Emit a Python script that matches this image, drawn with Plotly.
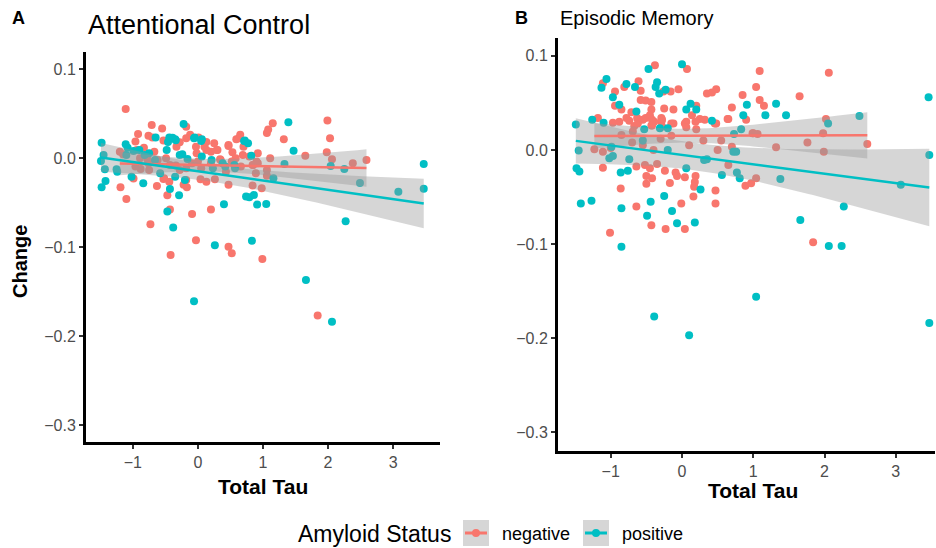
import numpy as np
import plotly.graph_objects as go

RED = "#F8766D"
CYAN = "#00BFC4"

# ---------------- Panel A: Attentional Control ----------------
a_neg_x = [-1.11,-0.71,-0.55,-0.18,-0.92,-0.76,-0.70,-0.53,-0.33,-0.12,0.01,0.13,0.25,0.47,0.59,0.65,0.70,1.06,1.08,1.15,1.32,1.65,1.99,2.03,1.98,2.06,2.38,2.59,
           -1.19,-1.10,-0.63,-0.99,-0.47,-0.43,-0.73,-0.09,0.20,-0.03,0.47,0.52,-0.42,0.99,1.84,0.84,0.98,1.06,0.47,0.26,0.13,0.04,-0.17,-0.22,-0.53,-0.44,
           -0.96,-1.15,-0.83,-0.67,-0.28,-0.18,-0.03,0.10,0.20,0.30,0.47,0.53,0.63,0.69,0.79,0.92,-0.96,-0.88,-0.75,-0.77,-0.62,-0.49,-0.52,-0.18,-0.09,
           -0.34,-0.28,-0.18,0.00,0.05,0.20,0.35,0.43,0.58,0.66,0.84,0.89,0.92,
           -1.20,-0.94,-0.89,-0.76,-0.43,-0.02,0.13,0.29,0.34,0.52,0.85,0.90,1.06,1.11]
a_neg_y = [0.055,0.037,0.033,0.035,0.027,0.025,0.023,0.0195,0.0127,0.026,0.023,0.018,0.0165,0.0146,0.021,0.026,0.0127,0.028,0.032,0.039,0.021,0.0026,0.042,0.022,0.0064,-0.0015,-0.006,-0.0022,
           -0.033,-0.046,-0.0315,-0.023,-0.042,-0.058,-0.0745,-0.063,-0.058,-0.0925,-0.0996,-0.107,-0.109,-0.1135,-0.177,-0.031,-0.034,-0.020,-0.030,-0.024,-0.0266,-0.024,-0.033,-0.030,-0.0236,-0.0266,
           0.0184,0.0041,0.0116,0.0071,0.0176,0.022,0.0127,0.0127,0.0071,0.009,0.0135,0.0064,0.022,0.0034,0.0015,0.0052,-0.0097,-0.0124,-0.0135,-0.0022,-0.0022,-0.0004,-0.0228,-0.0247,-0.006,
           -0.0086,-0.0135,-0.0116,-0.0041,-0.0116,-0.006,-0.0022,-0.0154,-0.0004,-0.0097,-0.0079,-0.0172,-0.006,
           0.0071,0.009,-0.0004,-0.006,-0.0079,0.0052,0.009,0.009,-0.0015,-0.0041,-0.0079,-0.0041,-0.0135,-0.0004]

a_pos_x = [-0.22,-0.65,-0.44,-0.35,-0.46,-0.05,0.06,0.72,0.77,1.39,1.47,1.33,2.04,2.25,2.49,3.08,3.47,3.47,2.27,-1.48,-1.45,-1.49,-1.43,-1.25,-1.24,-1.42,-1.48,
           -1.02,-0.84,-0.43,-0.29,-0.47,-0.38,0.40,0.26,0.83,1.66,0.74,0.79,0.86,0.91,1.05,1.16,-0.20,-0.35,-0.58,-0.06,2.06,
           -1.11,-1.08,-0.99,-0.90,-0.75,-0.39,-0.34,-0.06,0.05,0.06,0.71,0.82,-0.24,-0.16,0.23,0.38,0.56,
           -1.10,-0.82,-0.66,-0.48,-0.28,0.21,0.42,0.57]
a_pos_y = [0.038,0.023,0.023,0.021,0.018,0.023,0.021,0.0195,0.0165,0.040,0.008,-0.0067,-0.009,-0.0124,-0.028,-0.038,-0.0067,-0.0345,-0.071,0.017,0.0034,-0.0034,-0.0127,-0.0127,-0.0154,-0.026,-0.033,
           -0.021,-0.0285,-0.035,-0.042,-0.060,-0.078,-0.052,-0.098,-0.093,-0.137,-0.0434,-0.044,-0.0416,-0.0524,-0.0517,-0.0228,-0.0247,-0.021,-0.0172,-0.161,-0.184,
           0.0154,0.0116,0.0079,0.009,0.0052,0.0228,0.020,0.022,0.019,0.0015,0.019,0.0026,0.0041,-0.0011,-0.0116,-0.006,-0.0079,
           0.0034,0.0034,-0.0022,0.009,0.0034,-0.0022,-0.0097,-0.0116]

# ---------------- Panel B: Episodic Memory ----------------
b_neg_x = [-1.18,-1.11,-0.94,-0.94,-0.85,-0.81,-0.88,-0.97,-0.78,-0.71,-0.61,-0.58,-0.63,-0.67,-0.58,-0.51,-0.43,-0.43,-0.38,-0.26,-0.16,-0.05,-0.25,-0.12,-0.29,-0.29,-0.12,-0.39,-0.43,-0.51,-0.45,
           0.07,0.20,0.14,0.04,0.25,0.48,0.35,0.42,0.48,0.64,0.70,0.85,0.90,1.04,1.09,1.09,1.15,1.65,2.06,2.02,
           -0.74,-0.62,-0.69,-0.55,-0.42,-0.42,-0.28,-0.15,-0.28,0.06,0.06,0.19,0.32,0.20,0.46,0.65,1.00,
           -1.23,-0.64,-0.52,-0.45,-0.35,-0.50,-0.42,-0.50,-0.24,-0.09,-0.07,0.04,-0.17,0.19,0.18,0.17,0.16,0.47,0.47,0.65,0.89,0.97,1.04,-1.11,-0.86,-0.64,-0.01,-0.43,-0.23,0.04,-1.01,
           1.32,1.84,1.76,1.99,1.98,2.60,0.70,0.99,1.06,
           -1.11,-0.85,-0.55,-0.40,-0.30,-0.15,0.10,0.30,0.50,0.55,-1.00,-0.70]
b_neg_y = [0.034,0.071,0.062,0.047,0.043,0.067,0.030,0.029,0.034,0.040,0.073,0.063,0.034,0.0255,0.053,0.0525,0.051,0.043,0.090,0.062,0.062,0.0645,0.044,0.043,0.034,0.030,0.028,0.030,0.026,0.034,0.037,
           0.086,0.047,0.037,0.028,0.033,0.028,0.060,0.061,0.0645,0.033,0.045,0.0585,0.032,0.067,0.084,0.053,0.047,0.057,0.082,0.033,
           0.031,0.028,0.0195,0.032,0.032,0.026,0.032,0.028,0.025,0.030,0.024,0.030,0.032,0.022,0.028,0.033,0.0177,
           0.0007,-0.0177,-0.016,-0.0195,-0.0149,-0.0277,-0.030,-0.036,-0.022,-0.024,-0.0277,-0.029,-0.035,-0.0277,-0.034,-0.039,-0.0496,-0.043,-0.057,-0.016,-0.038,-0.0355,-0.030,-0.0188,-0.041,-0.060,-0.057,-0.080,-0.084,-0.084,-0.088,
           0.0028,-0.098,0.0078,-0.0018,0.0177,0.0064,0.0035,0.0177,0.017,
           -0.002,0.016,0.005,0.000,0.012,0.015,0.005,0.010,0.000,0.010,0.002,0.008]

b_pos_x = [-1.49,-1.26,-1.10,-1.13,-1.06,-0.97,-0.88,-0.78,-0.66,-0.64,-0.47,-0.35,-0.37,-0.32,-0.23,-0.31,-0.20,-0.53,0.00,0.06,0.12,0.20,0.42,0.83,0.86,0.91,1.17,1.32,1.46,2.05,2.49,3.46,
           -1.45,-1.02,-0.97,-0.74,-1.48,-1.44,-0.86,-0.76,0.06,0.26,0.56,0.77,0.81,-1.42,-1.27,-0.85,-0.44,-0.25,-0.14,-0.49,-0.07,0.18,-0.85,
           1.38,1.66,2.06,2.24,2.27,3.07,3.47,1.04,0.72,0.76,0.73,0.31,
           -0.39,0.10,3.47,
           -0.99,-0.55,-0.20,0.35]
b_pos_y = [0.027,0.032,0.029,0.066,0.0755,0.056,0.048,0.070,0.067,0.041,0.086,0.072,0.067,0.060,0.064,0.023,0.023,0.022,0.091,0.043,0.049,0.043,0.031,0.022,0.037,0.048,0.037,0.049,0.037,0.028,0.036,0.056,
           -0.0007,-0.0089,-0.0064,-0.0099,-0.0195,-0.023,-0.024,-0.022,-0.0195,-0.042,-0.0266,-0.024,-0.030,-0.057,-0.054,-0.062,-0.055,-0.049,-0.065,-0.070,-0.078,-0.077,-0.103,
           -0.031,-0.0745,-0.102,-0.102,-0.060,-0.037,-0.0053,-0.156,-0.002,-0.002,0.017,-0.0106,
           -0.177,-0.197,-0.184,
           0.0035,0.010,0.000,-0.010]

x_ticks = [-1, 0, 1, 2, 3]
y_ticks = [-0.3, -0.2, -0.1, 0.0, 0.1]
groups = ["negative", "positive"]


def lm_fit(x, y, n_pts=80):
    x = np.asarray(x, float)
    y = np.asarray(y, float)
    n = len(x)
    b, a = np.polyfit(x, y, 1)
    resid = y - (a + b * x)
    s = np.sqrt(np.sum(resid ** 2) / (n - 2))
    xbar = x.mean()
    sxx = np.sum((x - xbar) ** 2)
    xs = np.linspace(x.min(), x.max(), n_pts)
    yh = a + b * xs
    se = s * np.sqrt(1.0 / n + (xs - xbar) ** 2 / sxx)
    t = 1.98
    return xs, yh, yh - t * se, yh + t * se


fig = go.Figure()

panels = [
    ("x", "y", [(a_neg_x, a_neg_y, RED), (a_pos_x, a_pos_y, CYAN)]),
    ("x2", "y2", [(b_neg_x, b_neg_y, RED), (b_pos_x, b_pos_y, CYAN)]),
]

for xa, ya, series in panels:
    for (sx, sy, col), g in zip(series, groups):
        fig.add_trace(go.Scatter(x=sx, y=sy, mode="markers", xaxis=xa, yaxis=ya, name=g,
                                 showlegend=False,
                                 marker=dict(color=col, size=8, line=dict(width=0))))
    for (sx, sy, col), g in zip(series, groups):
        xs, yh, lo, hi = lm_fit(sx, sy)
        fig.add_trace(go.Scatter(x=np.concatenate([xs, xs[::-1]]), y=np.concatenate([hi, lo[::-1]]),
                                 mode="lines", fill="toself", fillcolor="rgba(153,153,153,0.4)",
                                 line=dict(width=0), xaxis=xa, yaxis=ya, showlegend=False, hoverinfo="skip"))
    for (sx, sy, col), g in zip(series, groups):
        xs, yh, lo, hi = lm_fit(sx, sy)
        fig.add_trace(go.Scatter(x=xs, y=yh, mode="lines", line=dict(color=col, width=2.5),
                                 xaxis=xa, yaxis=ya, showlegend=False, hoverinfo="skip"))

W, H = 936, 548
tickfont = dict(family="Liberation Sans, Arial, sans-serif", size=16, color="#4d4d4d")
ax_common = dict(showgrid=False, zeroline=False, showline=True, linecolor="black", linewidth=3,
                 ticks="outside", ticklen=4, tickwidth=2, tickcolor="#333333", tickfont=tickfont)

fig.update_layout(
    width=W, height=H,
    margin=dict(l=0, r=0, t=0, b=0),
    paper_bgcolor="white", plot_bgcolor="white",
    font=dict(family="Liberation Sans, Arial, sans-serif", color="black"),
    xaxis=dict(domain=[86 / W, 440 / W], range=[-1.72, 3.72], tickvals=x_ticks, anchor="y", **ax_common),
    yaxis=dict(domain=[(H - 442) / H, (H - 52) / H], range=[-0.319, 0.119], tickvals=y_ticks,
               tickformat=".1f", anchor="x", **ax_common),
    xaxis2=dict(domain=[558 / W, 935 / W], range=[-1.74, 3.55], tickvals=x_ticks, anchor="y2", **ax_common),
    yaxis2=dict(domain=[(H - 451) / H, (H - 38) / H], range=[-0.320, 0.119], tickvals=y_ticks,
                tickformat=".1f", anchor="x2", **ax_common),
    showlegend=False,
)


def px(x):
    return x / W


def py(y):
    return (H - y) / H


ann = [
    dict(text="<b>A</b>", x=px(10), y=py(18), size=18, xanchor="left"),
    dict(text="Attentional Control", x=px(86), y=py(25), size=27, xanchor="left"),
    dict(text="<b>B</b>", x=px(513), y=py(18), size=18, xanchor="left"),
    dict(text="Episodic Memory", x=px(558), y=py(18), size=20, xanchor="left"),
    dict(text="<b>Total Tau</b>", x=px(263), y=py(486), size=21, xanchor="center"),
    dict(text="<b>Total Tau</b>", x=px(753), y=py(490), size=21, xanchor="center"),
    dict(text="Amyloid Status", x=px(296), y=py(534), size=23, xanchor="left"),
    dict(text="negative", x=px(500), y=py(534), size=18, xanchor="left"),
    dict(text="positive", x=px(620), y=py(534), size=18, xanchor="left"),
]
for a in ann:
    fig.add_annotation(text=a["text"], x=a["x"], y=a["y"], xref="paper", yref="paper",
                       xanchor=a["xanchor"], yanchor="middle", showarrow=False,
                       font=dict(size=a["size"], color="black", family="Liberation Sans, Arial, sans-serif"))
fig.add_annotation(text="<b>Change</b>", x=px(20), y=py(262), xref="paper", yref="paper",
                   textangle=-90, showarrow=False, xanchor="center", yanchor="middle",
                   font=dict(size=20, color="black", family="Liberation Sans, Arial, sans-serif"))

# legend keys
for x0, col in [(463, RED), (583, CYAN)]:
    fig.add_shape(type="rect", xref="paper", yref="paper", x0=px(x0), x1=px(x0 + 26), y0=py(546), y1=py(520),
                  fillcolor="#d6d6d6", line=dict(width=0))
    fig.add_shape(type="line", xref="paper", yref="paper", x0=px(x0 + 2), x1=px(x0 + 24), y0=py(533), y1=py(533),
                  line=dict(color=col, width=3))
    fig.add_shape(type="circle", xref="paper", yref="paper", x0=px(x0 + 9), x1=px(x0 + 17), y0=py(537), y1=py(529),
                  fillcolor=col, line=dict(width=0))

fig.write_html("out.html", config={"displayModeBar": False},
               post_script="document.body.style.margin='0px';document.body.style.overflow='hidden';")
